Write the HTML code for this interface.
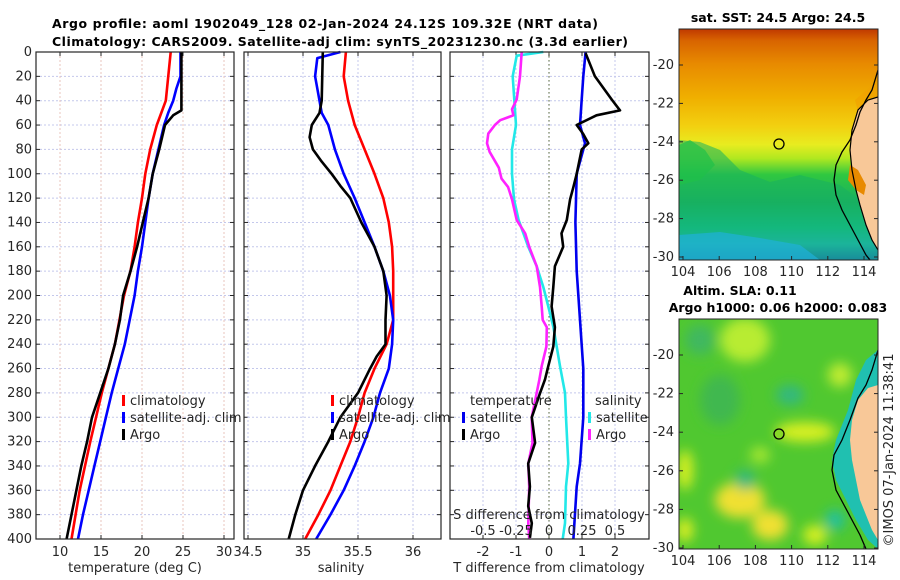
<!DOCTYPE html>
<html><head><meta charset="utf-8"><style>
html,body{margin:0;padding:0;background:#fff;}
svg{display:block;font-family:"DejaVu Sans","Liberation Sans",sans-serif;}
.t{font-size:13px;fill:#262626;}
.b{font-size:12.5px;font-weight:bold;fill:#000;}
</style></head><body>
<svg id="fig" width="900" height="580" viewBox="0 0 900 580" xmlns="http://www.w3.org/2000/svg">
<defs>
<linearGradient id="sstg" x1="0" y1="0" x2="0" y2="1">
<stop offset="0" stop-color="#c03800"/><stop offset="0.05" stop-color="#d86400"/>
<stop offset="0.15" stop-color="#e88a00"/><stop offset="0.3" stop-color="#f0b000"/>
<stop offset="0.42" stop-color="#f2d010"/><stop offset="0.5" stop-color="#e8ec20"/>
<stop offset="0.56" stop-color="#b0e820"/>
<stop offset="0.63" stop-color="#30c840"/><stop offset="0.75" stop-color="#18b060"/>
<stop offset="0.86" stop-color="#10c0a0"/><stop offset="0.93" stop-color="#20b8e0"/>
<stop offset="1" stop-color="#1a60e0"/></linearGradient>
<filter id="blur" x="-50%" y="-50%" width="200%" height="200%"><feGaussianBlur stdDeviation="6"/></filter>
<clipPath id="c1"><rect x="679" y="29" width="199" height="231"/></clipPath>
<clipPath id="c2"><rect x="679" y="319" width="199" height="230"/></clipPath>
</defs>

<text class="b" x="52" y="28" textLength="546">Argo profile: aoml 1902049_128 02-Jan-2024 24.12S 109.32E (NRT data)</text>
<text class="b" x="52" y="46" textLength="576">Climatology: CARS2009. Satellite-adj clim: synTS_20231230.nc (3.3d earlier)</text>

<g id="p1"></g>
<g id="p2"></g>
<g id="p3"></g>

<!-- SST map -->
<g>
<text class="b" x="778" y="22" text-anchor="middle">sat. SST: 24.5 Argo: 24.5</text>
<g clip-path="url(#c1)">
<rect x="679" y="29" width="199" height="231" fill="url(#sstg)"/>
<polygon points="679,140 700,142 720,150 740,170 770,182 800,175 840,185 860,200 878,230 878,260 679,260" fill="#18b060" opacity="0.55"/>
<polygon points="679,145 690,140 705,150 715,165 700,180 679,185" fill="#20c048" opacity="0.7"/>
<polygon points="679,235 720,232 760,238 800,245 820,260 679,260" fill="#20b0d8" opacity="0.7"/>
<polygon points="855,100 878,80 878,110 860,120" fill="#f0a000" opacity="0.6"/>
<polygon points="878,97 868,100 858,110 852,130 850,150 852,170 856,190 860,205 866,225 872,240 878,250" fill="#f8c898"/>
<polygon points="850,165 858,170 866,185 864,195 856,190 848,180" fill="#e88a00"/>
<path d="M878,70 L872,90 L866,100 L860,112 L856,125 L850,140 L842,152 L836,165 L834,180 L836,195 L842,210 L850,225 L858,240 L866,255 L870,260" fill="none" stroke="#000" stroke-width="1.3"/>
<path d="M878,97 L868,100 L858,110 L852,130 L850,150 L852,170 L856,190 L860,205 L866,225 L872,240 L878,250" fill="none" stroke="#000" stroke-width="1.2"/>
</g>
<rect x="679" y="29" width="199" height="231" fill="none" stroke="#262626" stroke-width="1"/>
<circle cx="779" cy="144" r="5" fill="none" stroke="#000" stroke-width="1.3"/>
<g id="m1ticks"></g>
</g>

<!-- SLA map -->
<g>
<text class="b" x="740" y="295" text-anchor="middle">Altim. SLA: 0.11</text>
<text class="b" x="778" y="312" text-anchor="middle">Argo h1000: 0.06 h2000: 0.083</text>
<g clip-path="url(#c2)">
<rect x="679" y="319" width="199" height="230" fill="#50c830"/>
<g filter="url(#blur)">
<ellipse cx="745" cy="340" rx="25" ry="22" fill="#b8ec30"/>
<ellipse cx="840" cy="375" rx="12" ry="12" fill="#c0ec30"/>
<ellipse cx="805" cy="432" rx="30" ry="10" fill="#d8f020"/>
<ellipse cx="740" cy="500" rx="25" ry="18" fill="#f0e030"/>
<ellipse cx="770" cy="525" rx="18" ry="15" fill="#f0e030"/>
<ellipse cx="685" cy="470" rx="8" ry="20" fill="#d8f020"/>
<ellipse cx="685" cy="530" rx="8" ry="12" fill="#e0f020"/>
<ellipse cx="815" cy="535" rx="12" ry="10" fill="#d8f020"/>
<ellipse cx="790" cy="395" rx="14" ry="10" fill="#30b880"/>
<ellipse cx="745" cy="480" rx="10" ry="10" fill="#30b880"/>
<ellipse cx="835" cy="520" rx="10" ry="10" fill="#20c0a0"/>
<ellipse cx="720" cy="400" rx="20" ry="25" fill="#40b850"/>
<ellipse cx="700" cy="340" rx="15" ry="15" fill="#40b860"/>
<ellipse cx="760" cy="455" rx="10" ry="8" fill="#a8e830"/>
</g>
<polygon points="878,350 866,360 856,380 848,410 836,440 832,460 836,480 846,500 856,520 868,540 878,549" fill="#20c0b0"/>
<polygon points="878,385 868,388 858,400 852,420 850,440 852,460 856,480 860,500 866,515 872,530 878,540" fill="#f8c898"/>
<path d="M878,350 L872,370 L866,385 L858,398 L850,420 L842,440 L834,455 L832,470 L836,490 L844,505 L852,520 L860,535 L866,549" fill="none" stroke="#000" stroke-width="1.3"/>
</g>
<rect x="679" y="319" width="199" height="230" fill="none" stroke="#262626" stroke-width="1"/>
<circle cx="779" cy="434" r="5" fill="#88d828" stroke="#000" stroke-width="1.3"/>
<g id="m2ticks"></g>
</g>
<text class="t" x="0" y="0" transform="translate(893,450) rotate(-90)" text-anchor="middle" font-size="13">©IMOS 07-Jan-2024 11:38:41</text>
</svg>
<script>
// ---- data ----
const depthTicks=[0,20,40,60,80,100,120,140,160,180,200,220,240,260,280,300,320,340,360,380,400];
const tTicks=[10,15,20,25,30];
const sTicks=[34.5,35,35.5,36];
const tdTicks=[-2,-1,0,1,2];
const sdTicks=[-0.5,-0.25,0,0.25,0.5];
const sdTickLabels=["-0.5","-0.25","0","0.25","0.5"];

const climTDepth=[0,40,60,80,100,120,140,160,180,200,240,280,320,360,400];
const climT=[23.5,22.9,21.8,21.0,20.4,20.0,19.5,19.1,18.6,17.8,16.7,15.1,13.7,12.4,11.4];
const satTDepth=[0,20,30,40,50,60,80,100,120,140,160,180,200,220,240,260,280,300,320,340,360,380,400];
const satT=[24.7,24.7,24.2,23.8,23.2,22.7,22.0,21.3,20.8,20.4,20.0,19.5,19.1,18.5,17.9,17.1,16.3,15.6,14.9,14.2,13.5,12.8,12.2];
const argoTDepth=[0,48,52,60,80,100,120,140,160,180,200,220,240,260,280,300,320,340,360,380,400];
const argoT=[24.8,24.8,23.8,22.8,22.1,21.3,20.8,20.1,19.4,18.6,17.7,17.3,16.7,15.9,14.9,13.9,13.3,12.6,12.0,11.4,10.8];

const climSDepth=[0,20,40,60,80,100,120,140,160,180,200,220,240,260,280,300,320,340,360,380,400];
const climS=[35.39,35.37,35.41,35.47,35.56,35.65,35.73,35.78,35.81,35.82,35.82,35.82,35.76,35.65,35.56,35.50,35.43,35.34,35.25,35.14,35.02];
const satSDepth=[0,5,20,40,50,60,80,100,120,140,160,180,200,220,240,260,280,300,320,340,360,380,400];
const satS=[35.34,35.13,35.11,35.15,35.17,35.23,35.29,35.37,35.47,35.56,35.65,35.73,35.79,35.82,35.81,35.78,35.70,35.64,35.56,35.47,35.37,35.25,35.12];
const argoSDepth=[0,40,50,60,70,80,90,100,110,120,140,160,180,200,220,240,250,260,280,300,320,340,360,380,400];
const argoS=[35.18,35.17,35.15,35.08,35.06,35.09,35.17,35.26,35.34,35.43,35.53,35.65,35.73,35.76,35.75,35.75,35.67,35.61,35.50,35.34,35.23,35.11,35.00,34.93,34.87];

const argoTdDepth=[1,20,39,48,52,60,67,75,80,100,111,121,138,149,160,176,193,209,226,242,258,269,280,300,321,338,357,373,387,399];
const argoTd=[1.11,1.39,1.9,2.15,1.44,0.84,1.03,1.19,0.99,0.84,0.74,0.64,0.54,0.38,0.43,0.18,0.13,0.08,0.18,0.13,-0.02,-0.12,-0.27,-0.52,-0.42,-0.63,-0.58,-0.63,-0.52,-0.58];
const satTdDepth=[0,20,39,60,75,100,140,180,220,260,300,338,357,400];
const satTd=[1.11,1.04,0.99,0.94,1.09,0.84,0.8,0.84,0.94,1.04,1.04,0.94,0.84,0.74];
const satSdDepth=[0,3,20,60,80,100,121,138,160,176,193,209,226,242,258,280,300,338,357,387,400];
const satSd=[-0.043,-0.245,-0.275,-0.25,-0.28,-0.28,-0.265,-0.23,-0.157,-0.093,-0.043,-0.005,0.033,0.058,0.083,0.121,0.129,0.146,0.129,0.121,0.104];
const argoSdDepth=[0,20,39,47,52,56,60,67,75,82,95,104,111,121,138,149,160,176,193,209,220,226,242,258,269,280,300,321,338,357,387,400];
const argoSd=[-0.207,-0.22,-0.245,-0.28,-0.27,-0.37,-0.41,-0.46,-0.47,-0.45,-0.38,-0.36,-0.31,-0.28,-0.245,-0.18,-0.15,-0.093,-0.068,-0.055,-0.048,-0.017,-0.02,-0.055,-0.073,-0.093,-0.131,-0.125,-0.157,-0.15,-0.157,-0.15];

const latTicks=[-20,-22,-24,-26,-28,-30];
const lonTicks=[104,106,108,110,112,114];

// ---- helpers ----
const NS="http://www.w3.org/2000/svg";
function mk(parent,tag,attrs,txt){const e=document.createElementNS(NS,tag);for(const k in attrs)e.setAttribute(k,attrs[k]);if(txt!==undefined)e.textContent=txt;parent.appendChild(e);return e;}
const top0=52,bot0=539;
const yD=d=>top0+d*(bot0-top0)/400;

function frame(g,x0,x1,xTickVals,xScale,gridColV,name){
  for(const d of depthTicks){const y=yD(d);
    const l=mk(g,'line',{x1:x0,x2:x1,y1:y,y2:y,stroke:'#c4c8ec','stroke-width':1,'stroke-dasharray':'2,2'});
    
    
    mk(g,'line',{x1:x0,x2:x0+4,y1:y,y2:y,stroke:'#262626'});
    mk(g,'line',{x1:x1-4,x2:x1,y1:y,y2:y,stroke:'#262626'});
  }
  for(const v of xTickVals){const x=xScale(v);
    const l=mk(g,'line',{x1:x,x2:x,y1:top0,y2:bot0,stroke:gridColV,'stroke-width':1,'stroke-dasharray':'2,2'});
    
    
    mk(g,'line',{x1:x,x2:x,y1:bot0,y2:bot0-4,stroke:'#262626'});
    mk(g,'line',{x1:x,x2:x,y1:top0,y2:top0+4,stroke:'#262626'});
  }
}
function border(g,x0,x1){const r=mk(g,'rect',{x:x0,y:top0,width:x1-x0,height:bot0-top0,fill:'none',stroke:'#262626','stroke-width':1.2});
  
  }
function line(g,ds,vs,xs,col,name,w){let p='';for(let i=0;i<ds.length;i++){p+=(i?'L':'M')+xs(vs[i]).toFixed(1)+','+yD(ds[i]).toFixed(1);}
  const e=mk(g,'path',{d:p,fill:'none',stroke:col,'stroke-width':w||2.6,'stroke-linejoin':'round'});
  
  }
function legendItem(g,x,y,col,label,name){
  mk(g,'rect',{x:x,y:y-10,width:3,height:11,fill:col});
  const t=mk(g,'text',{class:'t',x:x+8,y:y,'font-size':'14'},label);
  
  
}

// ---- panel 1: temperature ----
const g1=document.getElementById('p1');
const xT=t=>60+(t-10)*8.2;
frame(g1,36,234,tTicks,xT,'#e8c4bc','temperature');
line(g1,climTDepth,climT,xT,'#ff0000','climatology-temperature-line');
line(g1,satTDepth,satT,xT,'#0000ff','satellite-temperature-line');
line(g1,argoTDepth,argoT,xT,'#000000','argo-temperature-line');
border(g1,36,234);
for(const d of depthTicks){const t=mk(g1,'text',{class:'t',x:32,y:yD(d)+4,'text-anchor':'end'},String(d));
  
  }
for(const v of tTicks){const t=mk(g1,'text',{class:'t',x:xT(v),y:556,'text-anchor':'middle'},String(v));
  
  }
{const t=mk(g1,'text',{class:'t',x:135,y:572,'text-anchor':'middle'},'temperature (deg C)');
 
 }
legendItem(g1,122,405,'#ff0000','climatology','legend-climatology');
legendItem(g1,122,422,'#0000ff','satellite-adj. clim','legend-satellite-adj');
legendItem(g1,122,439,'#000000','Argo','legend-argo');

// ---- panel 2: salinity ----
const g2=document.getElementById('p2');
const xS=s=>303+(s-35)*110;
frame(g2,244,441,sTicks,xS,'#c4c8ec','salinity');
line(g2,climSDepth,climS,xS,'#ff0000','climatology-salinity-line');
line(g2,satSDepth,satS,xS,'#0000ff','satellite-salinity-line');
line(g2,argoSDepth,argoS,xS,'#000000','argo-salinity-line');
border(g2,244,441);
for(const v of sTicks){const t=mk(g2,'text',{class:'t',x:xS(v),y:556,'text-anchor':'middle'},String(v));
  
  }
{const t=mk(g2,'text',{class:'t',x:341,y:572,'text-anchor':'middle'},'salinity');
 
 }
legendItem(g2,331,405,'#ff0000','climatology','legend-climatology-2');
legendItem(g2,331,422,'#0000ff','satellite-adj. clim','legend-satellite-adj-2');
legendItem(g2,331,439,'#000000','Argo','legend-argo-2');

// ---- panel 3: differences ----
const g3=document.getElementById('p3');
const xTd=v=>549+v*33;
const xSd=v=>549+v*132;
frame(g3,450,649,tdTicks,xTd,'#c4c8ec','t-diff');
{const z=mk(g3,'line',{x1:549,x2:549,y1:top0,y2:bot0,stroke:'#5a6a3a','stroke-width':1,'stroke-dasharray':'1.5,2.5'});
 
 }
line(g3,satSdDepth,satSd,xSd,'#22e8e8','satellite-salinity-diff-line');
line(g3,argoSdDepth,argoSd,xSd,'#ff22ff','argo-salinity-diff-line');
line(g3,satTdDepth,satTd,xTd,'#0000ee','satellite-temperature-diff-line');
line(g3,argoTdDepth,argoTd,xTd,'#000000','argo-temperature-diff-line');
border(g3,450,649);
for(const v of tdTicks){const t=mk(g3,'text',{class:'t',x:xTd(v),y:556,'text-anchor':'middle'},String(v));
  
  }
sdTicks.forEach((v,i)=>{const t=mk(g3,'text',{class:'t',x:xSd(v),y:535,'text-anchor':'middle','font-size':'14'},sdTickLabels[i]);
  
  });
{const t=mk(g3,'text',{class:'t',x:549,y:519,'text-anchor':'middle','font-size':'14'},'S difference from climatology');
 
 }
{const t=mk(g3,'text',{class:'t',x:549,y:572,'text-anchor':'middle','font-size':'13.5'},'T difference from climatology');
 
 }
{const t=mk(g3,'text',{class:'t',x:470,y:405,'font-size':'14'},'temperature');
 
 
 const t2=mk(g3,'text',{class:'t',x:595,y:405,'font-size':'14'},'salinity');
 
 }
legendItem(g3,462,422,'#0000ee','satellite','legend-t-satellite');
legendItem(g3,462,439,'#000000','Argo','legend-t-argo');
legendItem(g3,588,422,'#22e8e8','satellite','legend-s-satellite');
legendItem(g3,588,439,'#ff22ff','Argo','legend-s-argo');

// ---- map ticks ----
function mapTicks(id,yTop,yBot,lat20y,pxLat){
  const g=document.getElementById(id);
  for(const la of latTicks){const y=lat20y+(-20-la)*pxLat;
    mk(g,'line',{x1:679,x2:683,y1:y,y2:y,stroke:'#262626'});
    mk(g,'line',{x1:874,x2:878,y1:y,y2:y,stroke:'#262626'});
    const t=mk(g,'text',{class:'t',x:674,y:y+4,'text-anchor':'end','font-size':'13'},String(la));
    
    }
  for(const lo of lonTicks){const x=683+(lo-104)*18.1;
    mk(g,'line',{x1:x,x2:x,y1:yBot,y2:yBot-4,stroke:'#262626'});
    const t=mk(g,'text',{class:'t',x:x,y:yBot+16,'text-anchor':'middle','font-size':'13'},String(lo));
    
    }
}
mapTicks('m1ticks',29,260,65,19.2);
mapTicks('m2ticks',319,549,355,19.3);
</script>
</body></html>
